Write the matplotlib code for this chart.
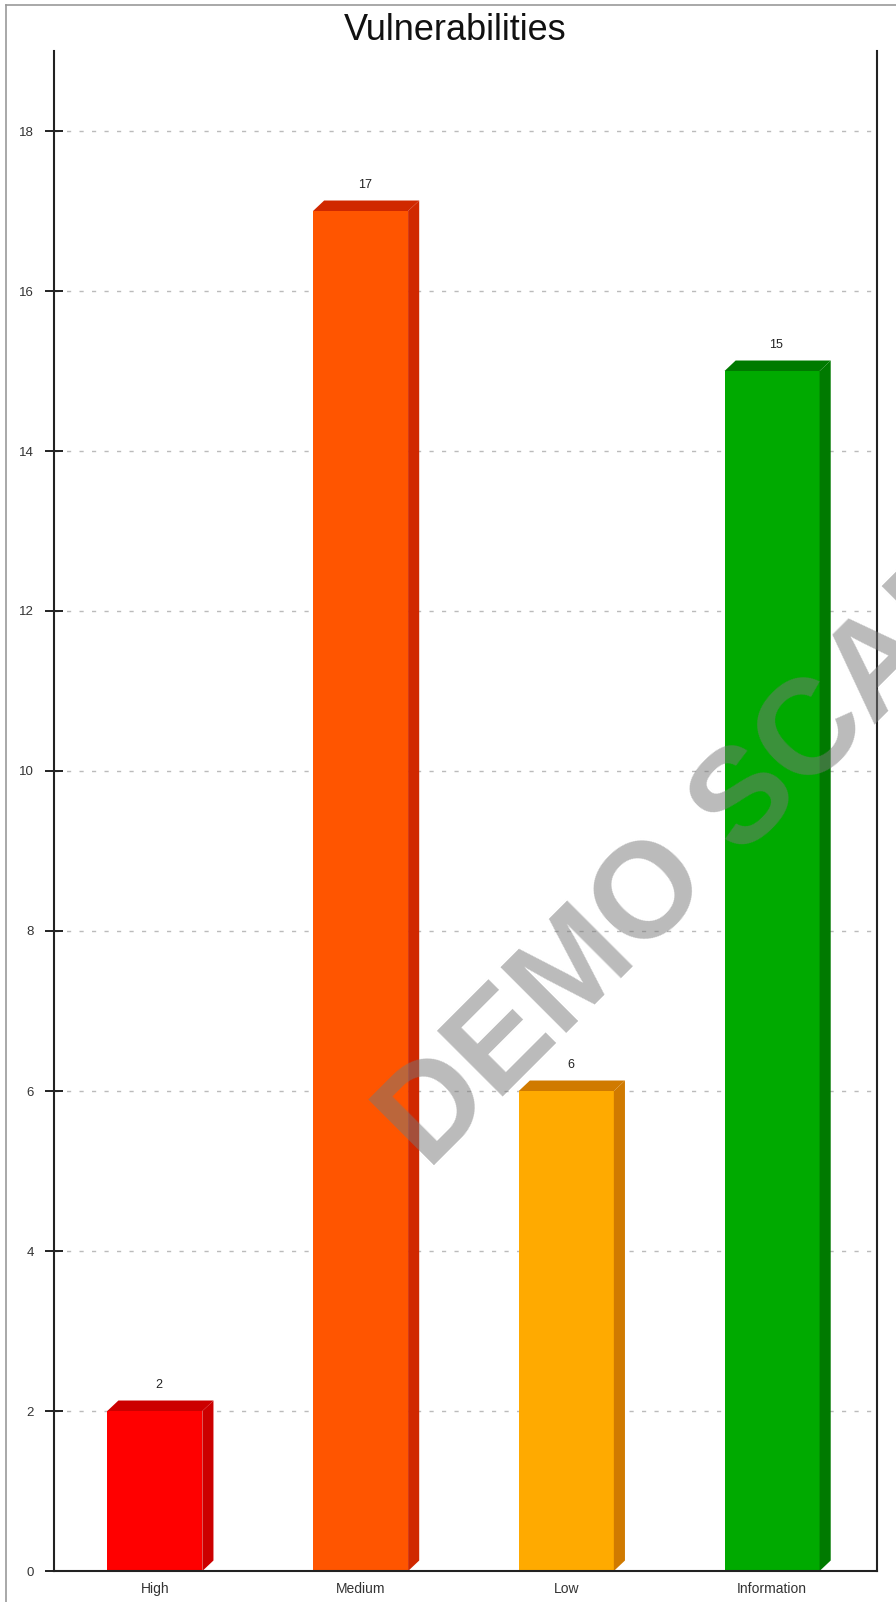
import numpy as np
import matplotlib.pyplot as plt
from matplotlib.patches import Polygon
from matplotlib.lines import Line2D

# donnees du graphique
categories = ["High", "Medium", "Low", "Information"]
counts = [2, 17, 6, 15]
front_colors = ["#ff0000", "#ff5500", "#ffaa00", "#00aa00"]
side_colors = ["#cc0000", "#d02800", "#d07a00", "#007a00"]
yticks = [0, 2, 4, 6, 8, 10, 12, 14, 16, 18]

plt.rcParams['font.family'] = ['Liberation Sans', 'DejaVu Sans']

fig = plt.figure(figsize=(8.96, 16.02), dpi=100)
ax = fig.add_axes([54/896, 1 - 1571/1602, (877-54)/896, (1571-51)/1602])

x = np.arange(len(categories))
w = 0.462
dx = 0.054   # profondeur 3D en x (unites de donnees)
dy = 0.131   # profondeur 3D en y

ax.bar(x - 0.01, counts, width=w, color=front_colors, zorder=2, linewidth=0)

for i in range(len(categories)):
    x0 = x[i] - 0.01 - w/2
    x1 = x[i] - 0.01 + w/2
    h = counts[i]
    # face du dessus
    top = Polygon([(x0, h), (x0 + dx, h + dy), (x1 + dx, h + dy), (x1, h)],
                  closed=True, facecolor=side_colors[i], edgecolor='none', zorder=2)
    # face de cote
    side = Polygon([(x1, 0), (x1 + dx, dy), (x1 + dx, h + dy), (x1, h)],
                   closed=True, facecolor=side_colors[i], edgecolor='none', zorder=2)
    ax.add_patch(top)
    ax.add_patch(side)
    ax.text(x[i] + 0.01, h + dy + 0.19, str(h), ha='center', va='center',
            fontsize=9, color='#222222', zorder=3)

ax.set_xlim(-0.5, 3.5)
ax.set_ylim(0, 19)
ax.set_yticks(yticks)
ax.set_xticks(x - 0.01)
ax.set_xticklabels(categories)

ax.set_axisbelow(True)
ax.yaxis.grid(True, color='#bbbbbb', linewidth=1.0, linestyle=(0, (3, 6)))
ax.xaxis.grid(False)

ax.spines['top'].set_visible(False)
for s in ['left', 'right', 'bottom']:
    ax.spines[s].set_linewidth(1.5)
    ax.spines[s].set_color('#222222')

ax.tick_params(axis='y', direction='inout', length=13, width=1.4, color='#222222',
               labelsize=9.5, labelcolor='#333333', pad=8)
ax.tick_params(axis='x', length=0, labelsize=10, labelcolor='#333333', pad=8)

# titre
fig.text(455/896, 1 - 30/1602, "Vulnerabilities", ha='center', va='center',
         fontsize=26, color='#111111')

# cadre gris
fig.add_artist(Line2D([5.5/896, 5.5/896], [0, 1 - 5/1602], color='#999999', linewidth=1.2))
fig.add_artist(Line2D([5.5/896, 1], [1 - 5/1602, 1 - 5/1602], color='#999999', linewidth=1.2))

# filigrane
fig.text(428/896, 1 - 1171/1602, "DEMO SCAN", rotation=45, rotation_mode='anchor',
         ha='left', va='baseline', fontsize=97, fontweight='bold',
         color='#787878', alpha=0.5, zorder=5)

fig.savefig('out.png', dpi=100)
